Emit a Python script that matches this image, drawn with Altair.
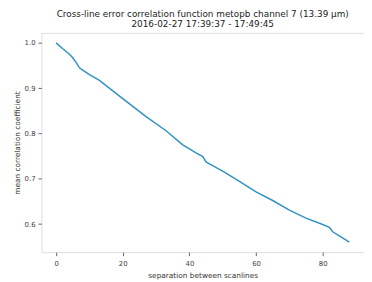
import altair as alt
import pandas as pd

separation = [0, 2, 4, 5, 6, 7, 8, 10, 13, 20, 27, 33, 38, 40, 42, 44, 45, 46,
              50, 55, 60, 65, 70, 75, 80, 82, 83, 85, 88]
correlation = [1.000, 0.987, 0.975, 0.967, 0.957, 0.945, 0.940, 0.930, 0.917,
               0.877, 0.837, 0.806, 0.775, 0.766, 0.757, 0.749, 0.737, 0.733,
               0.717, 0.694, 0.671, 0.652, 0.631, 0.613, 0.599, 0.593, 0.583,
               0.574, 0.560]
x_ticks = [0, 20, 40, 60, 80]
y_ticks = [0.6, 0.7, 0.8, 0.9, 1.0]
title_lines = ["Cross-line error correlation function metopb channel 7 (13.39 \u03bcm)",
               "2016-02-27 17:39:37 - 17:49:45"]

df = pd.DataFrame({"sep": separation, "corr": correlation})

FONT = "DejaVu Sans"

chart = alt.Chart(df).mark_line(color="#3193c2", strokeWidth=1.5, clip=True).encode(
    x=alt.X("sep:Q", scale=alt.Scale(domain=[-4.4, 92.4], nice=False, zero=False),
            axis=alt.Axis(values=x_ticks, title="separation between scanlines",
                          format="d", grid=False, domain=False, tickSize=3.5,
                          tickColor="#666", labelColor="#444", labelFontSize=7,
                          labelFont=FONT, titleFont=FONT, titleFontSize=7.5,
                          titleFontWeight="normal", titleColor="#333",
                          labelPadding=4, titlePadding=5)),
    y=alt.Y("corr:Q", scale=alt.Scale(domain=[0.538, 1.022], nice=False, zero=False),
            axis=alt.Axis(values=y_ticks, title="mean correlation coefficient",
                          format=".1f", grid=False, domain=False, tickSize=3.5,
                          tickColor="#666", labelColor="#444", labelFontSize=7,
                          labelFont=FONT, titleFont=FONT, titleFontSize=7.5,
                          titleFontWeight="normal", titleColor="#333",
                          labelPadding=3, titlePadding=3)),
).properties(
    width=328,
    height=223,
    title=alt.TitleParams(text=title_lines, font=FONT, fontSize=9,
                          fontWeight="normal", color="#222", anchor="middle",
                          offset=4, lineHeight=10.5),
    autosize=alt.AutoSizeParams(type="none"),
    padding={"left": 34, "top": 23, "right": 0, "bottom": 26},
).configure_view(stroke="#8a8a8a", strokeWidth=1).configure(background="white")

chart.save("out.html", embed_options={"renderer": "svg", "actions": False})
